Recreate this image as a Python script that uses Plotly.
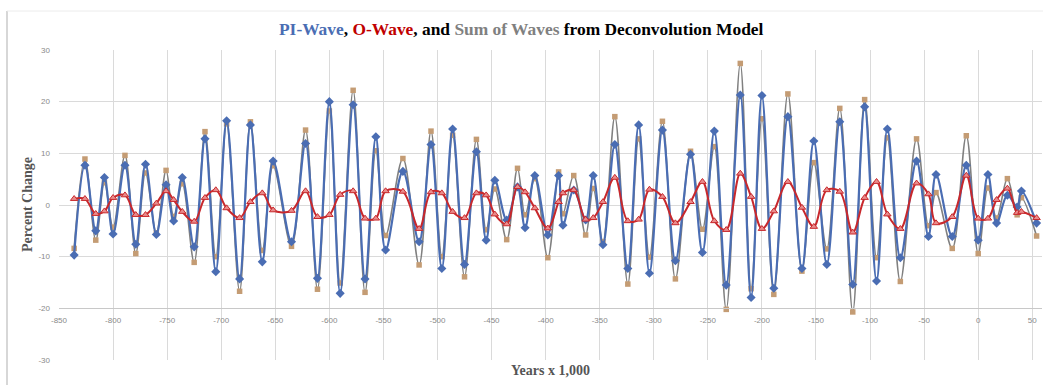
import plotly.graph_objects as go

# Time axis (thousands of years) and the three modelled series
years = [-836, -826, -816, -808, -800, -789, -779, -770, -760, -751, -744, -736,
         -725, -715, -705, -695, -683, -673, -662, -652, -635, -622, -611, -600,
         -590, -578, -567, -557, -548, -532, -517, -506, -496, -486, -475, -464,
         -455, -447, -436, -426, -419, -410, -398, -388, -384, -374, -363, -356,
         -347, -336, -324, -314, -304, -292, -280, -266, -255, -244, -233, -220,
         -210, -200, -189, -176, -163, -152, -140, -128, -116, -105, -94, -84,
         -72, -57, -46, -39, -24, -11, 0, 9, 17, 27, 36, 40, 54]

pi_wave = [-9.7, 7.7, -5.0, 5.3, -5.6, 7.7, -7.6, 7.9, -5.7, 3.9, -3.1, 5.3,
           -8.1, 12.8, -12.9, 16.3, -14.3, 15.5, -11.0, 8.5, -7.1, 11.9, -14.2, 20.0,
           -17.1, 19.4, -14.3, 13.2, -8.7, 6.5, -7.1, 11.7, -12.3, 14.7, -11.5, 10.3,
           -6.8, 4.8, -2.9, 3.5, -4.4, 5.7, -5.8, 5.7, -3.9, 2.9, -2.9, 5.7,
           -7.7, 11.7, -12.3, 15.5, -13.2, 14.5, -10.8, 9.8, -9.2, 14.3, -15.5, 21.3,
           -17.9, 21.2, -16.1, 17.1, -12.3, 12.4, -11.5, 16.1, -15.4, 19.0, -14.7, 14.7,
           -10.2, 8.5, -6.1, 5.9, -6.1, 7.7, -6.8, 5.9, -3.5, 1.9, -0.4, 2.7, -3.5]

o_wave = [1.2, 1.2, -1.7, -1.2, 1.4, 1.9, -1.9, -1.9, 0.3, 2.7, 1.0, -1.3,
          -3.2, 1.4, 2.9, -0.6, -2.5, 0.6, 2.3, -1.0, -1.1, 2.7, -2.3, -1.9,
          2.0, 2.7, -2.6, -2.6, 2.7, 2.6, -4.6, 2.5, 2.3, -1.3, -2.5, 2.3,
          1.9, -1.8, -3.7, 3.5, 2.5, -0.6, -4.5, 0.6, 2.3, 2.9, -2.8, -2.5,
          0.6, 5.3, -3.1, -2.8, 3.0, 1.6, -3.5, 0.6, 4.5, -3.1, -4.8, 6.1,
          1.6, -4.6, -1.2, 4.5, -0.5, -4.2, 2.9, 2.6, -5.3, 1.4, 4.5, -1.8,
          -4.6, 4.2, 2.1, -3.5, -2.3, 5.7, -2.6, -2.6, 1.0, 3.2, -1.5, -1.3, -2.5]

sum_waves = [-8.4, 8.9, -6.8, 4.3, -4.3, 9.6, -9.4, 6.2, -5.4, 6.7, -2.2, 4.1,
             -11.1, 14.2, -10.0, 15.7, -16.7, 16.1, -8.8, 7.6, -8.0, 14.5, -16.3, 18.2,
             -15.1, 22.2, -16.9, 10.5, -5.9, 9.0, -11.6, 14.3, -10.0, 13.5, -13.9, 12.7,
             -4.8, 3.1, -6.7, 7.1, -1.9, 5.1, -10.2, 6.4, -1.7, 5.7, -5.8, 3.2,
             -7.1, 17.1, -15.3, 12.8, -10.1, 16.2, -14.3, 10.4, -4.7, 11.3, -20.2, 27.4,
             -16.2, 16.7, -17.3, 21.5, -12.8, 8.2, -8.5, 18.7, -20.7, 20.4, -10.2, 13.0,
             -14.8, 12.8, -4.0, 2.4, -8.4, 13.4, -9.4, 3.3, -2.5, 5.1, -1.9, 1.4, -6.0]

x_tick_vals = [-850, -800, -750, -700, -650, -600, -550, -500, -450, -400,
               -350, -300, -250, -200, -150, -100, -50, 0, 50]
x_tick_text = ["-850", "-800", "-750", "-700", "-650", "-600", "-550", "-500", "-450", "-400",
               "-350", "-300", "-250", "-200", "-150", "-100", "-50", "0", "50"]
y_tick_vals = [30, 20, 10, 0, -10, -20, -30]
y_tick_text = ["30", "20", "10", "0", "-10", "-20", "-30"]

BLUE = "#4a6db3"
RED = "#c8282c"
GRAY = "#808080"
TAN = "#c49c74"
GRID = "#dadada"
SERIF = "Liberation Serif"

fig = go.Figure()

fig.add_trace(go.Scatter(
    x=years, y=sum_waves, name="Sum of Waves", mode="lines+markers",
    line=dict(color=GRAY, width=1.6, shape="spline", smoothing=1),
    marker=dict(symbol="square", size=5.5, color=TAN, line=dict(width=0)),
))
fig.add_trace(go.Scatter(
    x=years, y=pi_wave, name="PI-Wave", mode="lines+markers",
    line=dict(color=BLUE, width=2.2, shape="spline", smoothing=1),
    marker=dict(symbol="diamond", size=7, color=BLUE, line=dict(width=0)),
))
fig.add_trace(go.Scatter(
    x=years, y=o_wave, name="O-Wave", mode="lines+markers",
    line=dict(color=RED, width=2, shape="spline", smoothing=1),
    marker=dict(symbol="triangle-up", size=6.5, color="#e98c8c",
                line=dict(color=RED, width=1)),
))

title_html = (
    f'<b><span style="color:{BLUE}">PI-Wave</span>, '
    f'<span style="color:#c00000">O-Wave</span>, and '
    f'<span style="color:{GRAY}">Sum of Waves</span> from Deconvolution Model</b>'
)

fig.update_layout(
    width=1043, height=385,
    margin=dict(l=59, r=1, t=50, b=25),
    paper_bgcolor="white", plot_bgcolor="white",
    showlegend=False,
    font=dict(family="Liberation Sans", size=8, color="#8a8a8a"),
)

fig.update_xaxes(
    range=[-850, 59], tickvals=x_tick_vals, ticktext=x_tick_text,
    showgrid=True, gridcolor=GRID, gridwidth=1, zeroline=False,
    anchor="free", position=1 / 6,
    showline=True, linecolor="#c8c8c8", linewidth=1,
    ticks="", ticklabelstandoff=4,
    tickfont=dict(family="Liberation Sans", size=8, color="#8a8a8a"),
    automargin=False,
)
fig.update_yaxes(
    range=[-30, 30], tickvals=y_tick_vals, ticktext=y_tick_text,
    showgrid=True, gridcolor=GRID, gridwidth=1, zeroline=False,
    showline=False, ticks="", ticklabelstandoff=8,
    tickfont=dict(family="Liberation Sans", size=8, color="#8a8a8a"),
    automargin=False,
)

# Chart title (drawn as an annotation so the serif face is honoured)
fig.add_annotation(text=title_html, xref="paper", yref="paper",
                   x=(521.5 - 59) / 983, y=(385 - 25 - 29) / 310,
                   xanchor="center", yanchor="middle", showarrow=False,
                   font=dict(family=SERIF, size=17.4, color="black"))

# Axis titles
fig.add_annotation(text="<b>Percent Change</b>", xref="paper", yref="paper",
                   x=-32 / 983, y=0.5, xanchor="center", yanchor="middle",
                   textangle=-90, showarrow=False,
                   font=dict(family=SERIF, size=14, color="#555555"))
fig.add_annotation(text="<b>Years x 1,000</b>", xref="paper", yref="paper",
                   x=0.5, y=-10 / 310, xanchor="center", yanchor="middle",
                   showarrow=False,
                   font=dict(family=SERIF, size=14, color="#555555"))

# Chart frame edges
fig.add_shape(type="line", xref="paper", yref="paper",
              x0=-52 / 983, x1=-52 / 983, y0=-0.2, y1=(385 - 11 - 25) / 310,
              line=dict(color="#bdbdbd", width=1.2))
fig.add_shape(type="line", xref="paper", yref="paper",
              x0=-52 / 983, x1=1.01, y0=(385 - 11 - 25) / 310, y1=(385 - 11 - 25) / 310,
              line=dict(color="#ececec", width=1))

fig.write_html("out.html")
